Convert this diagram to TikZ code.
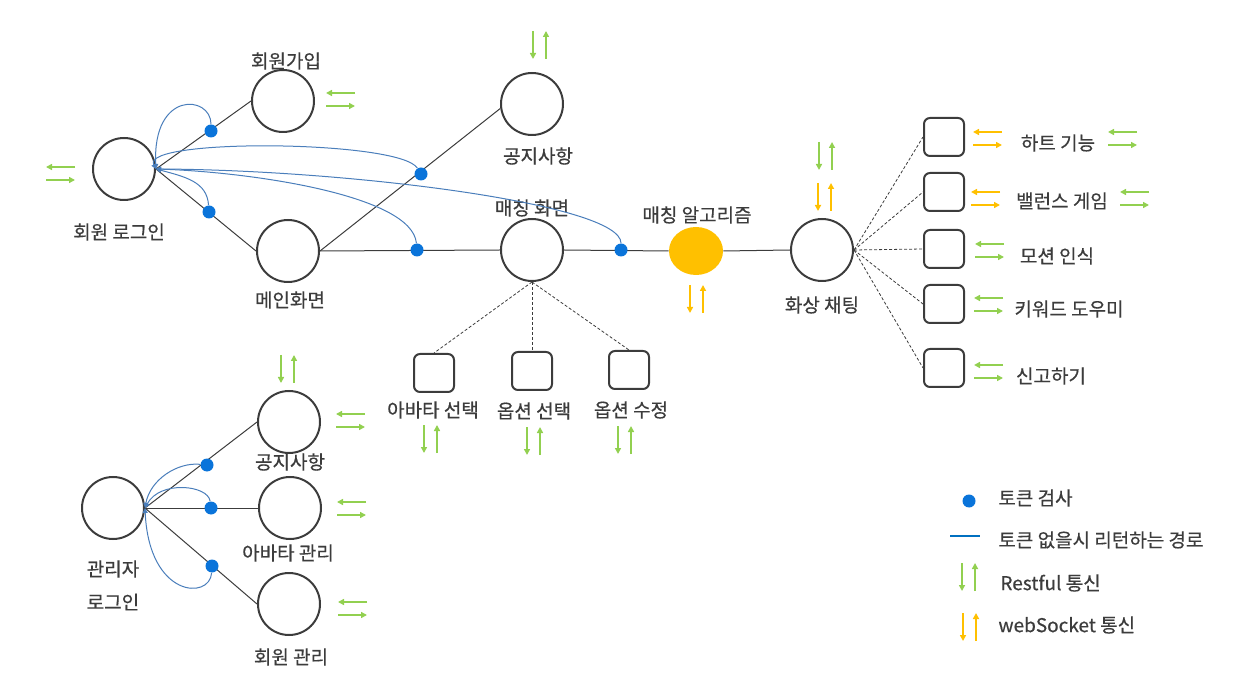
\documentclass[tikz,border=0pt]{standalone}
\usepackage{fontspec}
\setmainfont{Noto Sans CJK KR}[BoldFont=Noto Sans CJK KR, BoldFeatures={FakeBold=0.5}]
\usetikzlibrary{arrows.meta, shapes.geometric}
\definecolor{ink}{HTML}{3C3C3C}
\definecolor{restgreen}{HTML}{92D050}
\definecolor{wsorange}{HTML}{FFC000}
\definecolor{tokblue}{HTML}{0A74DA}
\definecolor{retblue}{HTML}{4A7EBB}
\definecolor{keyblue}{HTML}{0070C0}

\begin{document}
\begin{tikzpicture}[x=0.5pt, y=-0.5pt, >={Triangle[length=3pt, width=3pt]},
  stage/.style={circle, draw=ink, line width=1pt, minimum size=31pt, inner sep=0pt},
  sub/.style={draw=ink, line width=1pt, rounded corners=3pt, minimum width=20pt, minimum height=19pt, inner sep=0pt},
  lbl/.style={text=ink, font=\fontsize{9.5}{11.4}\selectfont\bfseries, inner sep=0pt},
  link/.style={draw=ink, line width=0.5pt},
  branch/.style={draw=ink, line width=0.4pt, dash pattern=on 1.5pt off 1pt},
  tok/.style={circle, fill=tokblue, minimum size=6.5pt, inner sep=0pt},
  ret/.style={draw=retblue, line width=0.5pt, -{Triangle[length=2.5pt, width=2.5pt]}},
  hpair/.pic={\draw[->, line width=1pt] (29,0) -- (0,0); \draw[->, line width=1pt] (0,13) -- (29,13);},
  vpair/.pic={\draw[->, line width=1pt] (0,0) -- (0,28); \draw[->, line width=1pt] (13,28) -- (13,0);}]
\useasboundingbox (0,0) rectangle (1256,699);

\node[stage] (login) at (124,169) {};
\node[lbl] (loginlbl) at (119,232) {회원 로그인};
\node[stage] (signup) at (283,101) {};
\node[lbl] (signuplbl) at (286,61) {회원가입};
\node[stage] (main) at (288,251) {};
\node[lbl] (mainlbl) at (290,300) {메인화면};
\node[stage] (notice) at (532,104) {};
\node[lbl] (noticelbl) at (538,156) {공지사항};
\node[stage] (match) at (532,250) {};
\node[lbl] (matchlbl) at (532,208) {매칭 화면};
\node[ellipse, fill=wsorange, minimum width=27pt, minimum height=24pt, inner sep=0pt] (algo) at (696,251) {};
\node[lbl] (algolbl) at (697,215) {매칭 알고리즘};
\node[stage] (chat) at (822,250) {};
\node[lbl] (chatlbl) at (822,305) {화상 채팅};

\node[sub] (avatar) at (434,373) {};
\node[lbl] (avatarlbl) at (433,410) {아바타 선택};
\node[sub] (optsel) at (532,371) {};
\node[lbl] (optsellbl) at (534,411) {옵션 선택};
\node[sub] (optedit) at (629,370) {};
\node[lbl] (opteditlbl) at (631,410) {옵션 수정};

\node[sub] (heart) at (944,137) {};
\node[lbl] (heartlbl) at (1058,143) {하트 기능};
\node[sub] (balance) at (944,192) {};
\node[lbl] (balancelbl) at (1062,201) {밸런스 게임};
\node[sub] (motion) at (944,249) {};
\node[lbl] (motionlbl) at (1057,256) {모션 인식};
\node[sub] (keyword) at (944,304) {};
\node[lbl] (keywordlbl) at (1069,309) {키워드 도우미};
\node[sub] (report) at (944,368) {};
\node[lbl] (reportlbl) at (1051,376) {신고하기};

\node[stage] (admin) at (113,508) {};
\node[lbl] (adminlbl) at (113,569) {관리자};
\node[lbl] (adminlbl2) at (113,602) {로그인};
\node[stage] (anotice) at (289,422) {};
\node[lbl] (anoticelbl) at (290,462) {공지사항};
\node[stage] (aavatar) at (290,508) {};
\node[lbl] (aavatarlbl) at (288,553) {아바타 관리};
\node[stage] (amember) at (289,604) {};
\node[lbl] (amemberlbl) at (291,657) {회원 관리};

\draw[link] (login.east) -- (signup.west);
\draw[link] (login.east) -- (main.west);
\draw[link] (main.east) -- (notice.188);
\draw[link] (main.east) -- (match.west);
\draw[link] (match.east) -- (algo.west);
\draw[link] (algo.east) -- (chat.west);
\draw[link] (admin.east) -- (anotice.west);
\draw[link] (admin.east) -- (aavatar.west);
\draw[link] (admin.east) -- (amember.west);
\foreach \b in {avatar, optsel, optedit}
  \draw[branch] (match.south) -- (\b.north);
\foreach \b in {heart, balance, motion, keyword, report}
  \draw[branch] (chat.east) -- (\b.west);

\node[tok] (t1) at (211,131) {};
\node[tok] (t2) at (209,212) {};
\node[tok] (t3) at (421,174) {};
\node[tok] (t4) at (417,250) {};
\node[tok] (t5) at (621,250) {};
\node[tok] (a1) at (207,465) {};
\node[tok] (a2) at (211,508) {};
\node[tok] (a3) at (212,566) {};

\draw[ret] (t1) .. controls +(0,-36) and +(-4,-79) .. (login.east);
\draw[ret] (t2) .. controls +(-2,-30) and +(30,8) .. (login.east);
\draw[ret] (t3) .. controls +(-21,-34) and +(-16,-31) .. (login.east);
\draw[ret] (t4) .. controls +(-5,-55) and +(94,3) .. (login.east);
\draw[ret] (t5) .. controls +(0,-46) and +(194,1) .. (login.east);
\draw[ret] (a1) .. controls +(-30,-3) and +(5,-28) .. (admin.east);
\draw[ret] (a2) .. controls +(-3,-23) and +(15,-28) .. (admin.east);
\draw[ret] (a3) .. controls +(-2,34) and +(4,90) .. (admin.east);

\pic[color=restgreen] at (46,167) {hpair};
\pic[color=restgreen] at (326,93) {hpair};
\pic[color=restgreen] at (533,31) {vpair};
\pic[color=wsorange] at (690,285) {vpair};
\pic[color=restgreen] at (819,142) {vpair};
\pic[color=wsorange] at (818,183) {vpair};
\pic[color=restgreen] at (424,425) {vpair};
\pic[color=restgreen] at (527,427) {vpair};
\pic[color=restgreen] at (618,426) {vpair};
\pic[color=wsorange] at (973,132) {hpair};
\pic[color=restgreen] at (1108,132) {hpair};
\pic[color=wsorange] at (971,192) {hpair};
\pic[color=restgreen] at (1120,192) {hpair};
\pic[color=restgreen] at (975,244) {hpair};
\pic[color=restgreen] at (974,298) {hpair};
\pic[color=restgreen] at (974,365) {hpair};
\pic[color=restgreen] at (281,355) {vpair};
\pic[color=restgreen] at (336,414) {hpair};
\pic[color=restgreen] at (337,502) {hpair};
\pic[color=restgreen] at (338,602) {hpair};

\node[tok] (keydot) at (969,501) {};
\node[lbl, anchor=west] (keydotlbl) at (998,498) {토큰 검사};
\coordinate (keyA) at (950,536);
\coordinate (keyB) at (980,536);
\draw[draw=keyblue, line width=1pt] (keyA) -- (keyB);
\node[lbl, anchor=west] (keylinelbl) at (998,540) {토큰 없을시 리턴하는 경로};
\pic[color=restgreen] at (962,563) {vpair};
\node[lbl, anchor=west] (keyrestlbl) at (1000,583) {Restful 통신};
\pic[color=wsorange] at (963,613) {vpair};
\node[lbl, anchor=west] (keywslbl) at (998,625) {webSocket 통신};
\end{tikzpicture}
\end{document}
